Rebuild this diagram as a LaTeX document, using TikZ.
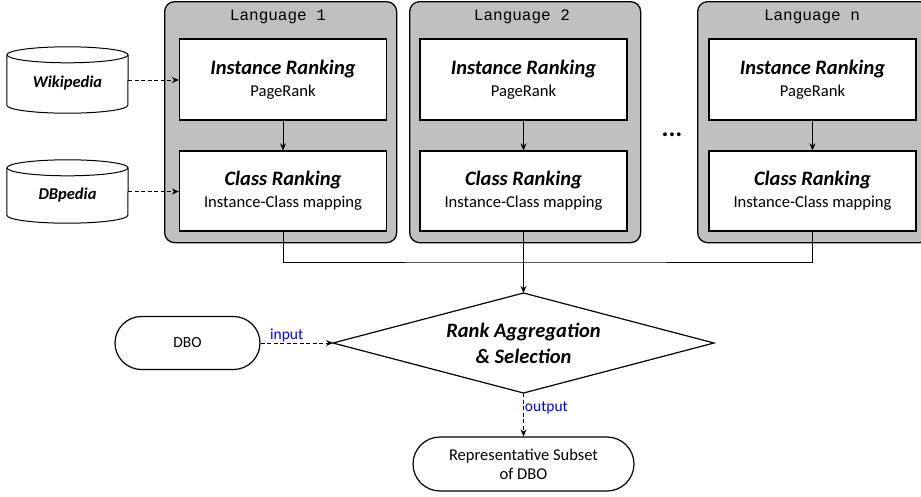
\documentclass[tikz,border=0pt]{standalone}
\usepackage{fontspec}
\setmainfont{Carlito}
\newfontfamily\langmono{Liberation Mono}
\usetikzlibrary{shapes.geometric,arrows.meta}
\definecolor{langgray}{HTML}{C0C0C0}
\definecolor{lblblue}{HTML}{0000FF}
\begin{document}
\begin{tikzpicture}[x=1pt,y=-1pt,
  langbox/.style={draw=black, line width=1.3pt, fill=langgray, rounded corners=10pt,
    rectangle, minimum width=232pt, minimum height=241pt, anchor=north west, inner sep=0pt},
  langlabel/.style={font=\langmono\fontsize{16}{16}\selectfont, inner sep=0pt},
  stepbox/.style={draw=black, line width=1.3pt, fill=white, rectangle, minimum width=207pt,
    align=center, inner sep=0pt, font=\fontsize{16.6}{22}\selectfont},
  cylnode/.style={rectangle, minimum width=121pt, inner sep=0pt,
    font=\fontsize{16.5}{18}\selectfont\bfseries\itshape},
  cylline/.style={draw=black, line width=1pt, fill=white},
  pill/.style={draw=black, line width=1.2pt, fill=white, rectangle, inner sep=0pt,
    align=center, font=\fontsize{16.5}{19}\selectfont},
  conn/.style={line width=0.9pt, -{Stealth[length=7pt,width=6pt]}},
  dconn/.style={conn, dash pattern=on 4pt off 2.5pt},
  plain/.style={line width=0.9pt},
  lbl/.style={text=lblblue, font=\fontsize{15.5}{18}\selectfont, inner sep=1pt}
]
\useasboundingbox (0,0) rectangle (921,496);

% language group boxes
\node[langbox] (lang1) at (164,1) {};
\node[langbox, minimum width=231pt] (lang2) at (409,1) {};
\node[langbox] (langn) at (697,1) {};
\node[langlabel] (lt1) at (278,17) {Language 1};
\node[langlabel] (lt2) at (522,17) {Language 2};
\node[langlabel] (ltn) at (812,17) {Language n};

% step boxes
\node[stepbox, minimum height=81pt] (ir1) at (283,79.5) {{\fontsize{20.5}{22}\selectfont\bfseries\itshape Instance Ranking}\\PageRank};
\node[stepbox, minimum height=80pt] (cr1) at (283,191) {{\fontsize{20.5}{22}\selectfont\bfseries\itshape Class Ranking}\\Instance-Class mapping};
\node[stepbox, minimum height=81pt] (ir2) at (523.5,79.5) {{\fontsize{20.5}{22}\selectfont\bfseries\itshape Instance Ranking}\\PageRank};
\node[stepbox, minimum height=80pt] (cr2) at (523.5,191) {{\fontsize{20.5}{22}\selectfont\bfseries\itshape Class Ranking}\\Instance-Class mapping};
\node[stepbox, minimum height=81pt] (irn) at (812.5,79.5) {{\fontsize{20.5}{22}\selectfont\bfseries\itshape Instance Ranking}\\PageRank};
\node[stepbox, minimum height=80pt] (crn) at (812.5,191) {{\fontsize{20.5}{22}\selectfont\bfseries\itshape Class Ranking}\\Instance-Class mapping};

\draw[conn] (ir1) -- (cr1);
\draw[conn] (ir2) -- (cr2);
\draw[conn] (irn) -- (crn);

% dots
\node[font=\fontsize{26}{26}\selectfont\bfseries, inner sep=0pt] (dots) at (672,135) {...};

% cylinders
\node[cylnode, minimum height=50pt] (wiki) at (67.5,80) {};
\draw[cylline] (wiki.north west) -- (wiki.south west)
  arc[start angle=180, end angle=360, x radius=60.5pt, y radius=8pt] -- (wiki.north east);
\draw[cylline] (wiki.north) ellipse [x radius=60.5pt, y radius=8pt];
\node[cylnode] (wikit) at (67.5,83) {Wikipedia};

\node[cylnode, minimum height=47pt] (dbp) at (67.5,191.5) {};
\draw[cylline] (dbp.north west) -- (dbp.south west)
  arc[start angle=180, end angle=360, x radius=60.5pt, y radius=8pt] -- (dbp.north east);
\draw[cylline] (dbp.north) ellipse [x radius=60.5pt, y radius=8pt];
\node[cylnode] (dbpt) at (67.5,195) {DBpedia};

\draw[dconn] (wiki.east) -- (wiki.east -| ir1.west);
\draw[dconn] (dbp.east) -- (dbp.east -| cr1.west);

% aggregation
\node[diamond, draw=black, line width=1.2pt, aspect=3.81, minimum width=381pt, minimum height=100pt,
  inner sep=0pt, outer sep=0pt, align=center, font=\fontsize{20.5}{26}\selectfont\bfseries\itshape]
  (agg) at (523.5,343) {Rank Aggregation\\\& Selection};

\coordinate (junc) at (523.5,262);
\draw[plain] (cr1.south) |- (junc) -| (crn.south);
\draw[conn, line width=1.2pt] (cr2.south) -- (agg.north);

% DBO and output
\node[pill, minimum width=145pt, minimum height=53pt, rounded corners=26.5pt, font=\fontsize{15.5}{19}\selectfont] (dbo) at (187.5,343) {DBO};
\node[pill, minimum width=221pt, minimum height=54pt, rounded corners=27pt] (rep) at (523.5,464) {Representative Subset\\of DBO};

\draw[dconn] (dbo.east) -- node[lbl, above, pos=0.36] {input} (agg.west);
\draw[dconn] (agg.south) -- node[lbl, right, pos=0.35] {output} (rep.north);
\end{tikzpicture}
\end{document}
